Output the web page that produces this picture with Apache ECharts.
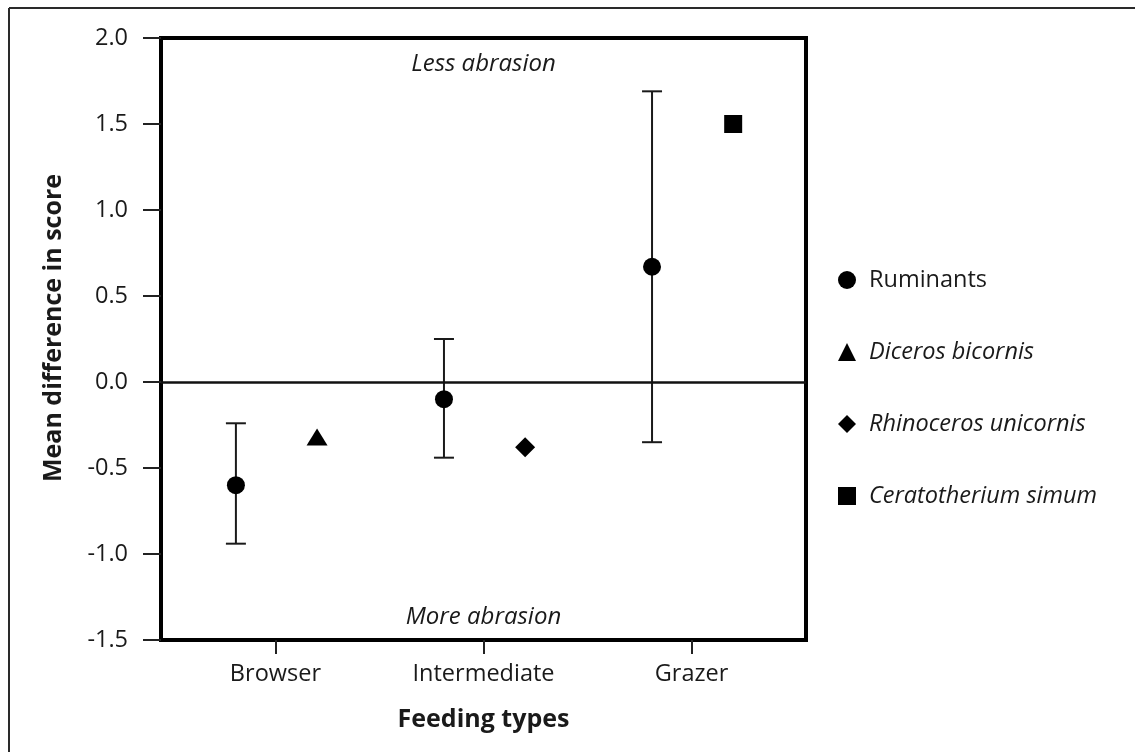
<!DOCTYPE html>
<html>
<head>
<meta charset="utf-8">
<script src="https://cdn.jsdelivr.net/npm/echarts@6/dist/echarts.min.js"></script>
<style>
  html, body { margin: 0; padding: 0; background: #fff; }
  #chart { width: 1135px; height: 752px; }
</style>
</head>
<body>
<div id="chart"></div>
<script>
// Feeding-type categories (placed at x = 1, 2, 3)
const categories = ['Browser', 'Intermediate', 'Grazer'];

// Ruminants: mean difference in score with its range
const ruminantMean = [-0.60, -0.10, 0.67];
const ruminantLow  = [-0.94, -0.44, -0.35];
const ruminantHigh = [-0.24, 0.25, 1.69];

// Rhinoceros species: [category index, mean difference]
const dicerosBicornis      = [[0, -0.32]];
const rhinocerosUnicornis  = [[1, -0.38]];
const ceratotheriumSimum   = [[2, 1.50]];

const yTicks = [-1.5, -1.0, -0.5, 0.0, 0.5, 1.0, 1.5, 2.0];

// horizontal dodge of the markers inside a category
const LEFT_SHIFT = -0.19;
const RIGHT_SHIFT = 0.2;

const FONT = '"Open Sans", "Liberation Sans", sans-serif';
const INK = '#1a1a1a';
const LABEL_SIZE = 23.5;
const MARK = { color: '#000', opacity: 1 };

const ruminantPoints = ruminantMean.map((v, i) => [i + 1 + LEFT_SHIFT, v]);
const ruminantBars = ruminantMean.map((v, i) => [i + 1 + LEFT_SHIFT, ruminantLow[i], ruminantHigh[i]]);
const shifted = arr => arr.map(d => [d[0] + 1 + RIGHT_SHIFT, d[1]]);

const chart = echarts.init(document.getElementById('chart'), null, { renderer: 'canvas' });

chart.setOption({
  backgroundColor: '#fff',
  animation: false,
  textStyle: { fontFamily: FONT, color: INK },
  grid: {
    left: 161, right: 329, top: 38, bottom: 112,
    show: true, borderColor: '#000', borderWidth: 4, backgroundColor: 'transparent'
  },
  xAxis: {
    type: 'value',
    min: 0.45, max: 3.55,
    name: 'Feeding types',
    nameLocation: 'middle',
    nameGap: 67,
    nameTextStyle: { fontFamily: FONT, fontWeight: 'bold', fontSize: 25, color: INK },
    splitLine: { show: false },
    axisLine: { show: true, onZero: false, lineStyle: { color: '#000', width: 4 } },
    axisTick: { show: true, customValues: [1, 2, 3], length: 14, lineStyle: { color: '#222', width: 2 } },
    axisLabel: {
      customValues: [1, 2, 3],
      formatter: v => categories[Math.round(v) - 1] || '',
      margin: 22, fontSize: LABEL_SIZE, color: INK, fontFamily: FONT
    }
  },
  yAxis: {
    type: 'value',
    min: -1.5, max: 2.0, interval: 0.5,
    name: 'Mean difference in score',
    nameLocation: 'middle',
    nameGap: 95,
    nameTextStyle: { fontFamily: FONT, fontWeight: 'bold', fontSize: 25, color: INK, padding: [0, 0, 0, 22] },
    splitLine: { show: false },
    axisLine: { show: true, lineStyle: { color: '#000', width: 4 } },
    axisTick: { show: true, length: 18, lineStyle: { color: '#222', width: 2 } },
    axisLabel: {
      formatter: v => yTicks.includes(+v.toFixed(1)) ? v.toFixed(1) : '',
      margin: 33, fontSize: LABEL_SIZE, color: INK, fontFamily: FONT
    }
  },
  legend: {
    orient: 'vertical',
    left: 833, top: 263,
    itemWidth: 18, itemHeight: 18,
    itemGap: 48,
    itemStyle: { opacity: 1 },
    textStyle: {
      fontFamily: FONT, fontSize: LABEL_SIZE, color: INK, lineHeight: 24,
      padding: [0, 0, 0, 8],
      rich: { i: { fontFamily: FONT, fontSize: LABEL_SIZE, fontStyle: 'italic', color: INK } }
    },
    formatter: name => name === 'Ruminants' ? name : '{i|' + name + '}',
    data: [
      { name: 'Ruminants', icon: 'circle' },
      { name: 'Diceros bicornis', icon: 'triangle' },
      { name: 'Rhinoceros unicornis', icon: 'diamond' },
      { name: 'Ceratotherium simum', icon: 'rect' }
    ]
  },
  series: [
    {
      name: 'Ruminants range',
      type: 'custom',
      silent: true,
      data: ruminantBars,
      encode: { x: 0, y: [1, 2] },
      renderItem: (params, api) => {
        const x = api.value(0);
        const lo = api.coord([x, api.value(1)]);
        const hi = api.coord([x, api.value(2)]);
        const half = 10;
        const style = { stroke: '#1a1a1a', lineWidth: 2 };
        return {
          type: 'group',
          children: [
            { type: 'line', shape: { x1: lo[0], y1: lo[1], x2: hi[0], y2: hi[1] }, style },
            { type: 'line', shape: { x1: lo[0] - half, y1: lo[1], x2: lo[0] + half, y2: lo[1] }, style },
            { type: 'line', shape: { x1: hi[0] - half, y1: hi[1], x2: hi[0] + half, y2: hi[1] }, style }
          ]
        };
      },
      z: 2
    },
    {
      name: 'Ruminants',
      type: 'scatter',
      symbol: 'circle',
      symbolSize: 18,
      itemStyle: MARK,
      data: ruminantPoints,
      z: 3,
      markLine: {
        silent: true,
        symbol: 'none',
        label: { show: false },
        lineStyle: { color: '#111', width: 2.5, type: 'solid' },
        data: [{ yAxis: 0 }]
      }
    },
    {
      name: 'Diceros bicornis',
      type: 'scatter',
      symbol: 'triangle',
      symbolSize: [21, 17],
      itemStyle: MARK,
      data: shifted(dicerosBicornis),
      z: 3
    },
    {
      name: 'Rhinoceros unicornis',
      type: 'scatter',
      symbol: 'diamond',
      symbolSize: [20, 20],
      itemStyle: MARK,
      data: shifted(rhinocerosUnicornis),
      z: 3
    },
    {
      name: 'Ceratotherium simum',
      type: 'scatter',
      symbol: 'rect',
      symbolSize: 18,
      itemStyle: MARK,
      data: shifted(ceratotheriumSimum),
      z: 3
    }
  ]
});

// outer frame lines and the region annotations inside the plot, placed from the axis scale
function placeAnnotations() {
  const top = chart.convertToPixel({ gridIndex: 0 }, [2, 1.85]);
  const bottom = chart.convertToPixel({ gridIndex: 0 }, [2, -1.37]);
  const mid = (chart.convertToPixel({ gridIndex: 0 }, [0.45, 0])[0] + chart.convertToPixel({ gridIndex: 0 }, [3.55, 0])[0]) / 2;
  const common = { fontFamily: FONT, fontSize: 24, fontStyle: 'italic', fill: INK, align: 'center', verticalAlign: 'middle' };
  chart.setOption({
    graphic: [
      { type: 'line', shape: { x1: 9, y1: 8, x2: 1135, y2: 8 }, style: { stroke: '#2a2a2a', lineWidth: 2 }, silent: true },
      { type: 'line', shape: { x1: 9, y1: 8, x2: 9, y2: 752 }, style: { stroke: '#2a2a2a', lineWidth: 2 }, silent: true },
      { type: 'text', x: mid, y: top[1], style: Object.assign({ text: 'Less abrasion' }, common), silent: true },
      { type: 'text', x: mid, y: bottom[1], style: Object.assign({ text: 'More abrasion' }, common), silent: true }
    ]
  }, { replaceMerge: ['graphic'] });
}
placeAnnotations();
</script>
</body>
</html>
